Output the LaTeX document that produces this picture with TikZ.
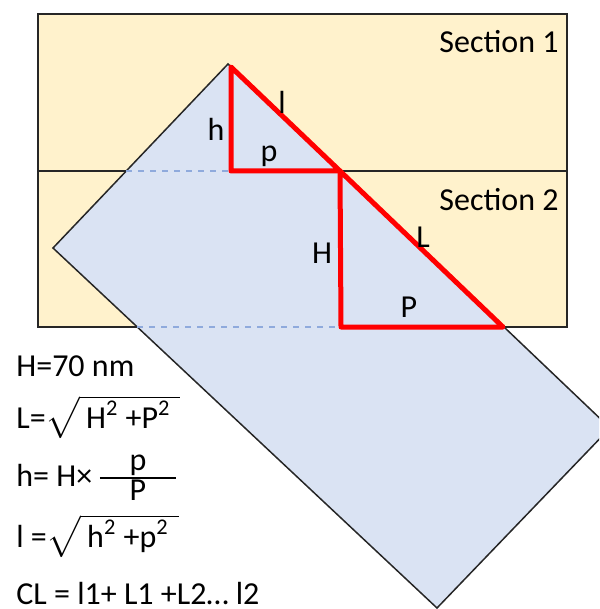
\documentclass[tikz,border=0pt]{standalone}
\usepackage{amsmath}
\usepackage{fontspec}
\setmainfont{Carlito}
\definecolor{sectfill}{RGB}{255,242,204}
\definecolor{platefill}{RGB}{218,227,243}
\definecolor{hiddenline}{RGB}{143,170,220}
\newcommand{\tallroot}[1]{$\sqrt{\rule[-5pt]{0pt}{19pt}\,\mbox{#1}\hspace{5pt}}$}

\begin{document}
\begin{tikzpicture}[x=0.5pt, y=-0.5pt,
    lbl/.style={font=\fontsize{16}{19}\selectfont, inner sep=0pt},
    eqn/.style={lbl, anchor=west},
    edge/.style={draw=black!85, line width=0.75pt},
    hid/.style={draw=hiddenline, dashed, line width=0.6pt},
    leg/.style={draw=red, line width=2.5pt, line join=round}]
  \useasboundingbox (0,0) rectangle (599,609);
  \fill[sectfill] (38,14) rectangle (567,327);
  \draw[edge] (38,14) rectangle (567,327);
  \draw[edge] (38,171) -- (567,171);
  \begin{scope}
    \clip (0,0) rectangle (599,609);
    \filldraw[fill=platefill, edge] (228,64) -- (610,428) -- (437,608) -- (53,248) -- cycle;
  \end{scope}
  \draw[hid] (126,171) -- (231,171);
  \draw[hid] (137,327) -- (341,327);
  \coordinate (t1) at (231,67);
  \coordinate (c1) at (231,171);
  \coordinate (t2) at (340,171);
  \coordinate (c2) at (341,327);
  \coordinate (e2) at (503,327);
  \draw[leg] (t1) -- (c1) -- (t2) -- cycle;
  \draw[leg] (t2) -- (c2) -- (e2) -- cycle;
  \node[lbl] (hlab) at (216,129) {h};
  \node[lbl] (llab) at (282,102) {l};
  \node[lbl] (plab) at (269,156) {p};
  \node[lbl] (Hlab) at (322,253) {H};
  \node[lbl] (Llab) at (423,237) {L};
  \node[lbl] (Plab) at (409,307) {P};
  \node[lbl, anchor=east] (sec1) at (559,42) {Section 1};
  \node[lbl, anchor=east] (sec2) at (559,200) {Section 2};
  \node[eqn] (eqH) at (16,366) {H=70 nm};
  \node[eqn] (eqL) at (16,417) {L=\tallroot{H\textsuperscript{2} +P\textsuperscript{2}}};
  \node[eqn] (eqh) at (16,478) {h= H×\,$\tfrac{\makebox[38pt]{p}}{\mbox{P}}$};
  \node[eqn] (eql) at (16,536) {l =\tallroot{h\textsuperscript{2} +p\textsuperscript{2}}};
  \node[eqn] (eqCL) at (16,594) {CL = l1+ L1 +L2… l2};
\end{tikzpicture}
\end{document}
